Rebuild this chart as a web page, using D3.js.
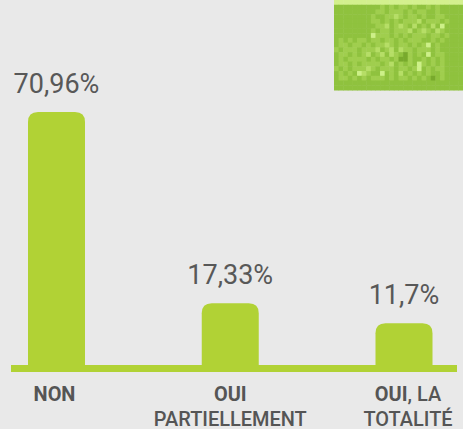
<!DOCTYPE html>
<html>
<head>
<meta charset="utf-8">
<script src="https://cdn.jsdelivr.net/npm/d3@7"></script>
<style>
  html, body { margin: 0; padding: 0; background: #e9e9e9; }
  svg { display: block; font-family: Roboto, "Noto Sans", sans-serif; }
</style>
</head>
<body>
<div id="chart"></div>
<script>
const categories = ["NON", "OUI PARTIELLEMENT", "OUI, LA TOTALITÉ"];
const values = [70.96, 17.33, 11.7];
// label lines, each line a list of [text, bold?]
const tickLines = [
  [[["NON", true]]],
  [[["OUI", true]], [["PARTIELLEMENT", false]]],
  [[["OUI", true], [", LA", false]], [["TOTALITÉ", false]]]
];

// pixelated corner picture, shade codes
const mosaic = [
  "tttttttttttttttttttttttttttt",
  "..........a.a.aa.a..a.a.....",
  ".........aa.aaa.a.aa..a.....",
  "........a..aaba.aa.a..aa....",
  "........aa.a.a.aaab.aaa.a...",
  ".........aab.aba.b.a.b.c....",
  "........a.aa.aaab.aba.ba....",
  "........caaa.a.a.aaa.aa.a...",
  ".a.a.aa.aa.aa.a.aaa..a.a....",
  ".aa.aa.a.aaba.aa.a.ac.a.....",
  "a.aaa.aaab.ab.baa.aaa.a.....",
  ".aa.a.ab.ab.ba.da.a.c.aa....",
  ".a.aaaa.a.aa.adda..a.a.a....",
  ".aa.a.aaaa.ab.a.a.ca.a.a....",
  "a.a.aaaba.aaa.aa.ac.a.aa....",
  ".a.a.cba..c.a.b.a.a.a..a....",
  ".aa.a.a.aaa.a.aa.a.a.d.a....",
  "............................",
  "............................"
];
const shades = { ".": "#8fc23e", "a": "#a0ce4e", "b": "#b6de66", "c": "#cdf088", "d": "#78aa2c", "t": "#d3f08e" };

const width = 463, height = 429;
const baseY = 365, barW = 57, r = 10;

const svg = d3.select("#chart").append("svg")
  .attr("width", width)
  .attr("height", height);

svg.append("rect").attr("width", width).attr("height", height).attr("fill", "#e9e9e9");

// mosaic
const cols = mosaic[0].length, rows = mosaic.length;
const mx = d3.scaleLinear().domain([0, cols]).range([334, 463]);
const my = d3.scaleLinear().domain([0, rows]).range([0, 90]);
const cells = [];
mosaic.forEach((row, j) => row.split("").forEach((c, i) => cells.push({ i, j, c })));
svg.append("g").selectAll("rect")
  .data(cells)
  .enter()
  .append("rect")
  .attr("x", d => mx(d.i))
  .attr("y", d => my(d.j))
  .attr("width", mx(1) - mx(0) + 0.5)
  .attr("height", my(1) - my(0) + 0.5)
  .attr("fill", d => shades[d.c]);

const x = d3.scalePoint()
  .domain(categories)
  .range([56.5, 404]);

const y = d3.scaleLinear()
  .domain([0, 70.96])
  .range([baseY, 112]);

const data = categories.map((c, i) => ({ c, v: values[i], lines: tickLines[i] }));

function barPath(d) {
  const x0 = x(d.c) - barW / 2, x1 = x0 + barW, top = y(d.v);
  return `M${x0},${baseY}V${top + r}Q${x0},${top} ${x0 + r},${top}H${x1 - r}Q${x1},${top} ${x1},${top + r}V${baseY}Z`;
}

svg.selectAll("path.bar")
  .data(data)
  .enter()
  .append("path")
  .attr("class", "bar")
  .attr("d", barPath)
  .attr("fill", "#b1d235");

// baseline
svg.append("rect")
  .attr("x", 11)
  .attr("y", baseY)
  .attr("width", 446)
  .attr("height", 7)
  .attr("fill", "#b1d235");

svg.selectAll("text.value")
  .data(data)
  .enter()
  .append("text")
  .attr("class", "value")
  .attr("x", d => x(d.c))
  .attr("y", d => y(d.v) - 19)
  .attr("text-anchor", "middle")
  .attr("font-size", 27)
  .attr("fill", "#585858")
  .text(d => String(d.v).replace(".", ",") + "%");

const labels = svg.selectAll("text.cat")
  .data(data)
  .enter()
  .append("text")
  .attr("class", "cat")
  .attr("text-anchor", "middle")
  .attr("font-size", 21)
  .attr("fill", "#555")
  .attr("transform", (d, i) => `translate(${x(d.c) + (i === 2 ? 4 : (i === 0 ? -2 : 0))},0) scale(0.95,1)`);

labels.each(function(d) {
  const t = d3.select(this);
  d.lines.forEach((line, k) => {
    line.forEach((part, p) => {
      const ts = t.append("tspan")
        .attr("font-weight", part[1] ? 700 : 500)
        .text(part[0]);
      if (p === 0) ts.attr("x", 0).attr("y", 401.5 + k * 25);
    });
  });
});
</script>
</body>
</html>
